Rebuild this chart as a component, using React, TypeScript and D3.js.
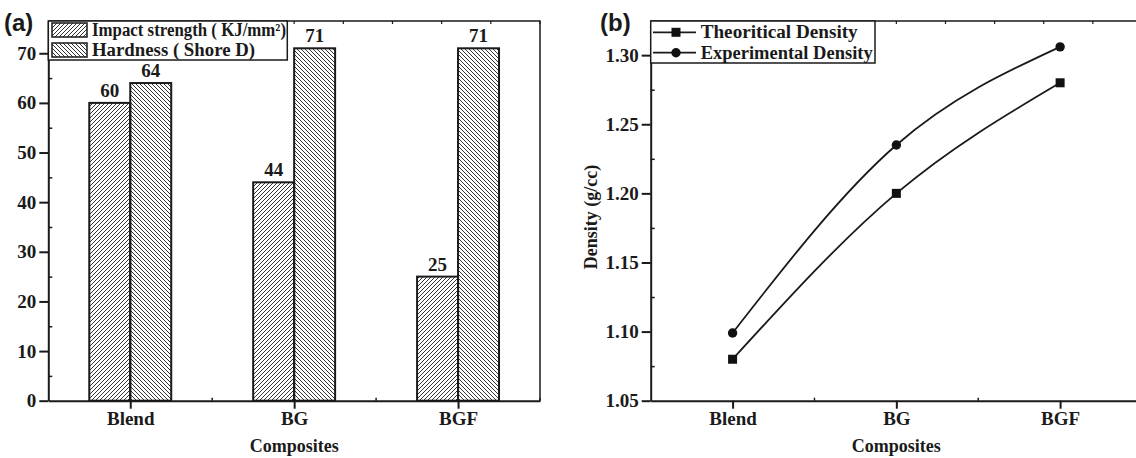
import * as d3 from "d3";
import React, { useEffect, useRef } from "react";

// values
const categories = ["Blend", "BG", "BGF"];
const impactStrength = [60, 44, 25];
const hardness = [64, 71, 71];
const barTicks = [0, 10, 20, 30, 40, 50, 60, 70];
const barMinorTicks = [5, 15, 25, 35, 45, 55, 65, 75];

const theoreticalDensity = [1.08, 1.2, 1.28];
const experimentalDensity = [1.099, 1.235, 1.306];
const densityTicks = [1.05, 1.1, 1.15, 1.2, 1.25, 1.3];
const densityMinorTicks = [1.075, 1.125, 1.175, 1.225, 1.275, 1.325];

const W = 1136;
const H = 458;
const SERIF = "'Liberation Serif', 'Times New Roman', serif";
const SANS = "'Liberation Sans', Arial, sans-serif";
const INK = "#1a1a1a";

function App() {
    const ref = useRef<SVGSVGElement | null>(null);

    function drawChart() {
        const svg = d3.select(ref.current);
        svg.selectAll("*").remove();

        const defs = svg.append("defs");
        // "/" hatch for impact strength
        defs.append("pattern")
            .attr("id", "hatchUp")
            .attr("patternUnits", "userSpaceOnUse")
            .attr("width", 4)
            .attr("height", 4)
            .append("path")
            .attr("d", "M-1,1 l2,-2 M0,4 l4,-4 M3,5 l2,-2")
            .attr("stroke", "#333")
            .attr("stroke-width", 1);
        // "\" hatch for hardness
        defs.append("pattern")
            .attr("id", "hatchDown")
            .attr("patternUnits", "userSpaceOnUse")
            .attr("width", 4)
            .attr("height", 4)
            .append("path")
            .attr("d", "M-1,3 l2,2 M0,0 l4,4 M3,-1 l2,2")
            .attr("stroke", "#333")
            .attr("stroke-width", 1);

        // ---------- panel (a) ----------
        const a = { left: 48.3, right: 540, top: 21, bottom: 400.7 };
        const xA = d3.scalePoint().domain(categories).range([a.left, a.right]).padding(0.5);
        const xAi = d3.scaleLinear().domain([-0.5, 2.5]).range([a.left, a.right]);
        const yA = d3.scaleLinear().domain([0, 76.5]).range([a.bottom, a.top]);
        const barW = xA.step() * 0.25;

        const gA = svg.append("g");

        // bars
        const barData = categories.map((c, i) => ({ c, impact: impactStrength[i], hard: hardness[i] }));
        gA.selectAll(".impact")
            .data(barData)
            .enter()
            .append("rect")
            .attr("x", (d) => (xA(d.c) as number) - barW)
            .attr("y", (d) => yA(d.impact))
            .attr("width", barW)
            .attr("height", (d) => a.bottom - yA(d.impact))
            .attr("fill", "url(#hatchUp)")
            .attr("stroke", INK)
            .attr("stroke-width", 2);
        gA.selectAll(".hard")
            .data(barData)
            .enter()
            .append("rect")
            .attr("x", (d) => xA(d.c) as number)
            .attr("y", (d) => yA(d.hard))
            .attr("width", barW)
            .attr("height", (d) => a.bottom - yA(d.hard))
            .attr("fill", "url(#hatchDown)")
            .attr("stroke", INK)
            .attr("stroke-width", 2);

        // value labels
        barData.forEach((d) => {
            gA.append("text")
                .attr("x", (xA(d.c) as number) - barW / 2)
                .attr("y", yA(d.impact) - 6)
                .attr("text-anchor", "middle")
                .text(d.impact);
            gA.append("text")
                .attr("x", (xA(d.c) as number) + barW / 2)
                .attr("y", yA(d.hard) - 6)
                .attr("text-anchor", "middle")
                .text(d.hard);
        });
        gA.selectAll("text")
            .style("font-family", SERIF)
            .style("font-weight", "bold")
            .style("font-size", "19px")
            .attr("fill", INK);

        drawFrame(gA, a, xA, xAi, yA, barTicks, barMinorTicks, (v) => d3.format("d")(v));

        // legend (a)
        const legA = gA.append("g");
        legA.append("rect")
            .attr("x", a.left)
            .attr("y", a.top)
            .attr("width", 239)
            .attr("height", 39)
            .attr("fill", "white")
            .attr("stroke", INK)
            .attr("stroke-width", 1.5);
        const legItems = [
            { label: "Impact strength ( KJ/mm²)", fill: "url(#hatchUp)", y: 23, len: 194 },
            { label: "Hardness ( Shore D)", fill: "url(#hatchDown)", y: 43, len: 163 },
        ];
        legItems.forEach((it) => {
            legA.append("rect")
                .attr("x", 52)
                .attr("y", it.y)
                .attr("width", 35)
                .attr("height", 14)
                .attr("fill", it.fill)
                .attr("stroke", INK)
                .attr("stroke-width", 1.5);
            legA.append("text")
                .attr("x", 92)
                .attr("y", it.y + 13)
                .attr("textLength", it.len)
                .attr("lengthAdjust", "spacingAndGlyphs")
                .style("font-family", SERIF)
                .style("font-weight", "bold")
                .style("font-size", "18px")
                .attr("fill", INK)
                .text(it.label);
        });

        svg.append("text")
            .attr("x", 4)
            .attr("y", 31)
            .style("font-family", SANS)
            .style("font-weight", "bold")
            .style("font-size", "24px")
            .attr("fill", INK)
            .text("(a)");

        // ---------- panel (b) ----------
        const b = { left: 650.7, right: 1142, top: 21, bottom: 400.7 };
        const xB = d3.scalePoint().domain(categories).range([b.left, b.right]).padding(0.5);
        const xBi = d3.scaleLinear().domain([-0.5, 2.5]).range([b.left, b.right]);
        const yB = d3.scaleLinear().domain([1.05, 1.3247]).range([b.bottom, b.top]);

        const gB = svg.append("g");
        drawFrame(gB, b, xB, xBi, yB, densityTicks, densityMinorTicks, (v) => d3.format(".2f")(v));

        const line = d3
            .line<number>()
            .x((_, i) => xB(categories[i]) as number)
            .y((d) => yB(d))
            .curve(d3.curveNatural);

        [theoreticalDensity, experimentalDensity].forEach((series) => {
            gB.append("path")
                .attr("d", line(series))
                .attr("fill", "none")
                .attr("stroke", INK)
                .attr("stroke-width", 1.8);
        });
        gB.selectAll(".sq")
            .data(theoreticalDensity)
            .enter()
            .append("rect")
            .attr("x", (_, i) => (xB(categories[i]) as number) - 4.5)
            .attr("y", (d) => yB(d) - 4.5)
            .attr("width", 9)
            .attr("height", 9)
            .attr("fill", "#111");
        gB.selectAll(".dot")
            .data(experimentalDensity)
            .enter()
            .append("circle")
            .attr("cx", (_, i) => xB(categories[i]) as number)
            .attr("cy", (d) => yB(d))
            .attr("r", 4.7)
            .attr("fill", "#111");

        // legend (b)
        const legB = gB.append("g");
        legB.append("rect")
            .attr("x", b.left)
            .attr("y", b.top)
            .attr("width", 224.3)
            .attr("height", 42)
            .attr("fill", "white")
            .attr("stroke", INK)
            .attr("stroke-width", 1.5);
        [
            { label: "Theoritical Density", y: 32.3, square: true, len: 157 },
            { label: "Experimental Density", y: 52.7, square: false, len: 172 },
        ].forEach((it) => {
            legB.append("line")
                .attr("x1", 653)
                .attr("x2", 696)
                .attr("y1", it.y)
                .attr("y2", it.y)
                .attr("stroke", INK)
                .attr("stroke-width", 1.8);
            if (it.square) {
                legB.append("rect")
                    .attr("x", 671.5)
                    .attr("y", it.y - 4.5)
                    .attr("width", 9)
                    .attr("height", 9)
                    .attr("fill", "#111");
            } else {
                legB.append("circle").attr("cx", 676).attr("cy", it.y).attr("r", 4.7).attr("fill", "#111");
            }
            legB.append("text")
                .attr("x", 700.7)
                .attr("y", it.y + 6)
                .attr("textLength", it.len)
                .attr("lengthAdjust", "spacingAndGlyphs")
                .style("font-family", SERIF)
                .style("font-weight", "bold")
                .style("font-size", "18.5px")
                .attr("fill", INK)
                .text(it.label);
        });

        // y title
        gB.append("text")
            .attr("transform", `translate(597,217) rotate(-90)`)
            .attr("text-anchor", "middle")
            .style("font-family", SERIF)
            .style("font-weight", "bold")
            .style("font-size", "18px")
            .attr("fill", INK)
            .text("Density (g/cc)");

        svg.append("text")
            .attr("x", 600)
            .attr("y", 31)
            .style("font-family", SANS)
            .style("font-weight", "bold")
            .style("font-size", "24px")
            .attr("fill", INK)
            .text("(b)");
    }

    function drawFrame(g: any, box: any, x: any, xi: any, y: any, ticks: number[], minor: number[], fmt: (v: number) => string) {
        // top + right border
        g.append("path")
            .attr("d", `M${box.left},${box.top}H${box.right}V${box.bottom}`)
            .attr("fill", "none")
            .attr("stroke", INK)
            .attr("stroke-width", 1.5);

        // small ticks along the top
        const topTicks = d3.range(0, 9).map((k) => 0.1 + 0.3 * k);
        g.selectAll(".ttick")
            .data(topTicks)
            .enter()
            .append("line")
            .attr("x1", (d: number) => xi(d))
            .attr("x2", (d: number) => xi(d))
            .attr("y1", box.top)
            .attr("y2", box.top + 3)
            .attr("stroke", INK)
            .attr("stroke-width", 1.2);

        // left axis
        const yAxis = g
            .append("g")
            .attr("transform", `translate(${box.left},0)`)
            .call(d3.axisLeft(y).tickValues(ticks).tickSize(9).tickSizeOuter(0).tickPadding(3).tickFormat(fmt));
        yAxis.select(".domain").attr("stroke", INK).attr("stroke-width", 2);
        yAxis.selectAll(".tick line").attr("stroke", INK).attr("stroke-width", 2);
        yAxis.selectAll("text")
            .style("font-family", SERIF)
            .style("font-weight", "bold")
            .style("font-size", "19px")
            .attr("fill", INK);

        g.append("g")
            .attr("transform", `translate(${box.left},0)`)
            .call(d3.axisLeft(y).tickValues(minor.filter((v) => y(v) > box.top)).tickSize(-4).tickFormat(() => ""))
            .call((s: any) => s.select(".domain").remove())
            .selectAll(".tick line")
            .attr("stroke", INK)
            .attr("stroke-width", 1.5);

        // bottom axis
        const xAxis = g
            .append("g")
            .attr("transform", `translate(0,${box.bottom})`)
            .call(d3.axisBottom(x).tickSize(8).tickSizeOuter(0).tickPadding(3));
        xAxis.select(".domain").attr("stroke", INK).attr("stroke-width", 2);
        xAxis.selectAll(".tick line").attr("stroke", INK).attr("stroke-width", 2);
        xAxis.selectAll("text")
            .style("font-family", SERIF)
            .style("font-weight", "bold")
            .style("font-size", "19px")
            .attr("fill", INK);

        // minor ticks between categories
        g.selectAll(".btick")
            .data([0.5, 1.5, 2.5])
            .enter()
            .append("line")
            .attr("x1", (d: number) => xi(d))
            .attr("x2", (d: number) => xi(d))
            .attr("y1", box.bottom)
            .attr("y2", box.bottom - 3)
            .attr("stroke", INK)
            .attr("stroke-width", 1.5);

        g.append("text")
            .attr("x", (x.range()[0] + x.range()[1]) / 2)
            .attr("y", 452)
            .attr("text-anchor", "middle")
            .style("font-family", SERIF)
            .style("font-weight", "bold")
            .style("font-size", "18px")
            .attr("fill", INK)
            .text("Composites");
    }

    useEffect(() => {
        drawChart();
    }, []);

    return (
        <svg
            ref={ref}
            width={W}
            height={H}
            style={{ position: "absolute", left: 0, top: 0, background: "white" }}
        ></svg>
    );
}

export default App;
